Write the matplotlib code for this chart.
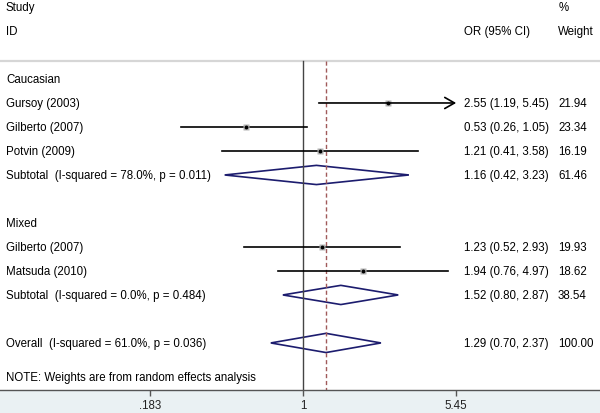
import numpy as np
import matplotlib.pyplot as plt
from matplotlib.patches import Polygon

plt.rcParams['font.family'] = ['Liberation Sans', 'DejaVu Sans']

# === data ===
study_names = ['Gursoy (2003)', 'Gilberto (2007)', 'Potvin (2009)',
               'Gilberto (2007)', 'Matsuda (2010)']
study_rows = [4, 5, 6, 10, 11]
odds = [2.55, 0.53, 1.21, 1.23, 1.94]
ci_lo = [1.19, 0.26, 0.41, 0.52, 0.76]
ci_hi = [5.45, 1.05, 3.58, 2.93, 4.97]
weights = [21.94, 23.34, 16.19, 19.93, 18.62]

pooled_labels = ['Subtotal  (I-squared = 78.0%, p = 0.011)',
                 'Subtotal  (I-squared = 0.0%, p = 0.484)',
                 'Overall  (I-squared = 61.0%, p = 0.036)']
pooled_rows = [7, 12, 14]
pooled_or = [1.16, 1.52, 1.29]
pooled_lo = [0.42, 0.80, 0.70]
pooled_hi = [3.23, 2.87, 2.37]
pooled_w = ['61.46', '38.54', '100.00']

group_labels = ['Caucasian', 'Mixed']
group_rows = [3, 9]

xticks = [0.183, 1, 5.45]
xtick_labels = ['.183', '1', '5.45']
x_max = 5.45
overall = 1.29

fs = 8.3
fig = plt.figure(figsize=(6, 4.14), dpi=100, facecolor='#eaf1f3')
ax = fig.add_axes([0, 23.5 / 414, 1, 390.5 / 414])
ax.set_facecolor('white')
ax.set_xscale('log')
ax.set_xlim(0.0349, 26.8)
ax.set_ylim(15.94, -0.333)
tr = ax.get_yaxis_transform()

def px(x):
    return x / 600.0

# headers
ax.text(px(6), 0, 'Study', transform=tr, va='center', fontsize=fs)
ax.text(px(6), 1, 'ID', transform=tr, va='center', fontsize=fs)
ax.text(px(559), 0, '%', transform=tr, va='center', fontsize=fs)
ax.text(px(464), 1, 'OR (95% CI)', transform=tr, va='center', fontsize=fs)
ax.text(px(558), 1, 'Weight', transform=tr, va='center', fontsize=fs)
ax.axhline(2.25, color='#d6d6d6', lw=1.6)

for g, r in zip(group_labels, group_rows):
    ax.text(px(6), r, g, transform=tr, va='center', fontsize=fs)

# reference lines
ax.plot([1, 1], [2.25, 15.94], color='#444444', lw=1.0)
ax.plot([overall, overall], [2.25, 15.94], color='#a05a5a', lw=1.0, dashes=(3, 2))

# individual studies
for name, r, o, lo, hi, w in zip(study_names, study_rows, odds, ci_lo, ci_hi, weights):
    if hi >= x_max:
        ax.annotate('', xy=(x_max, r), xytext=(lo, r),
                    arrowprops=dict(arrowstyle='->,head_length=0.7,head_width=0.4',
                                    lw=1.2, color='black', shrinkA=0, shrinkB=0))
    else:
        ax.plot([lo, hi], [r, r], color='black', lw=1.2)
    ax.plot(o, r, marker='s', ms=np.sqrt(w) * 0.95, color='#b4b4b4', mec='none')
    ax.plot(o, r, marker='o', ms=2.8, color='black', mec='none')
    ax.text(px(6), r, name, transform=tr, va='center', fontsize=fs)
    ax.text(px(464), r, f'{o:.2f} ({lo:.2f}, {hi:.2f})', transform=tr, va='center', fontsize=fs)
    ax.text(px(558), r, f'{w:.2f}', transform=tr, va='center', fontsize=fs)

# pooled diamonds
h = 0.4
for lab, r, o, lo, hi, w in zip(pooled_labels, pooled_rows, pooled_or, pooled_lo, pooled_hi, pooled_w):
    ax.add_patch(Polygon([(lo, r), (o, r - h), (hi, r), (o, r + h)], closed=True,
                         fill=False, edgecolor='#1c1c6e', lw=1.2))
    ax.text(px(6), r, lab, transform=tr, va='center', fontsize=fs)
    ax.text(px(464), r, f'{o:.2f} ({lo:.2f}, {hi:.2f})', transform=tr, va='center', fontsize=fs)
    ax.text(px(558), r, w, transform=tr, va='center', fontsize=fs)

ax.text(px(6), 15.4, 'NOTE: Weights are from random effects analysis', transform=tr,
        va='center', fontsize=fs)

for s in ['top', 'left', 'right']:
    ax.spines[s].set_visible(False)
ax.spines['bottom'].set_color('#555555')
ax.spines['bottom'].set_linewidth(1.0)
ax.set_yticks([])
ax.set_xticks(xticks)
ax.set_xticklabels(xtick_labels)
ax.minorticks_off()
ax.tick_params(axis='x', length=4, width=1, color='#555555', labelsize=fs,
               labelcolor='#222222', pad=3)

fig.savefig('out.png', dpi=100, facecolor=fig.get_facecolor())
